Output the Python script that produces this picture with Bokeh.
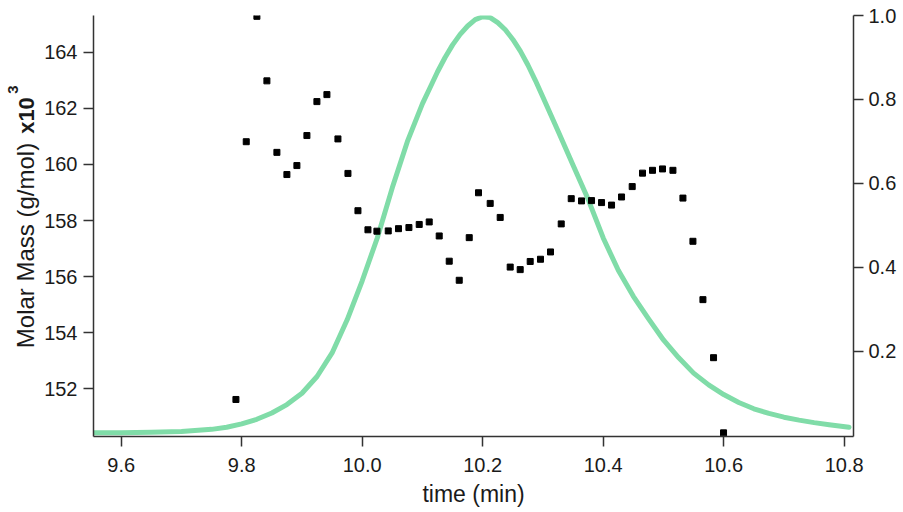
import math
from bokeh.plotting import figure
from bokeh.layouts import row
from bokeh.models import Range1d, LinearAxis, FixedTicker, PrintfTickFormatter
from bokeh.core.properties import value
from bokeh.embed import file_html
from bokeh.resources import INLINE

# ---- data ----
# Molar mass points (time in min, molar mass x10^3 g/mol)
mm_time = [9.7904, 9.8075, 9.8252, 9.8418, 9.8584, 9.8750, 9.8916, 9.9082, 9.9248, 9.9414,
           9.9597, 9.9763, 9.9929, 10.0095, 10.0244, 10.0432, 10.0602, 10.0775, 10.0946, 10.1112,
           10.1278, 10.1444, 10.1610, 10.1776, 10.1930, 10.2124, 10.2290, 10.2456, 10.2622, 10.2788,
           10.2959, 10.3125, 10.3303, 10.3469, 10.3640, 10.3806, 10.3972, 10.4138, 10.4304, 10.4481,
           10.4652, 10.4818, 10.4984, 10.5157, 10.5323, 10.5489, 10.5655, 10.5831, 10.5997]
mm_value = [151.62, 160.81, 165.28, 162.98, 160.43, 159.64, 159.96, 161.03, 162.24, 162.49,
            160.91, 159.68, 158.35, 157.67, 157.62, 157.63, 157.71, 157.75, 157.86, 157.95,
            157.45, 156.55, 155.87, 157.39, 158.99, 158.61, 158.11, 156.34, 156.25, 156.54,
            156.62, 156.88, 157.88, 158.78, 158.70, 158.71, 158.64, 158.55, 158.84, 159.21,
            159.69, 159.79, 159.84, 159.79, 158.80, 157.26, 155.18, 153.11, 150.43]

# Detector trace (normalized, right axis)
trace_time = [9.554, 9.60, 9.65, 9.70, 9.75, 9.775, 9.80, 9.825, 9.85, 9.875, 9.90, 9.925, 9.95,
              9.975, 10.00, 10.025, 10.05, 10.075, 10.10, 10.1125, 10.125, 10.1375, 10.15, 10.1625,
              10.175, 10.1875, 10.20, 10.2125, 10.225, 10.2375, 10.25, 10.2625, 10.275, 10.2875,
              10.30, 10.325, 10.35, 10.375, 10.40, 10.425, 10.45, 10.475, 10.50, 10.525,
              10.55, 10.575, 10.60, 10.625, 10.65, 10.675, 10.70, 10.725, 10.75, 10.775, 10.808]
trace_value = [0.006, 0.006, 0.007, 0.009, 0.014, 0.019, 0.027, 0.038, 0.053, 0.073, 0.100, 0.140, 0.196,
               0.275, 0.368, 0.470, 0.590, 0.700, 0.790, 0.828, 0.866, 0.900, 0.930, 0.955,
               0.975, 0.990, 0.997, 0.995, 0.983, 0.966, 0.943, 0.915, 0.882, 0.845,
               0.805, 0.725, 0.643, 0.562, 0.470, 0.393, 0.331, 0.278, 0.227, 0.185,
               0.148, 0.120, 0.097, 0.078, 0.063, 0.052, 0.043, 0.036, 0.030, 0.025, 0.019]

x_ticks = [9.6, 9.8, 10.0, 10.2, 10.4, 10.6, 10.8]
left_ticks = [152, 154, 156, 158, 160, 162, 164]
right_ticks = [0.2, 0.4, 0.6, 0.8, 1.0]

ylabel_main = "Molar Mass (g/mol)"
ylabel_bold = "x10"
ylabel_sup = "3"

FONT = "Liberation Sans"
AX_COLOR = "#333333"
TXT_COLOR = "#1a1a1a"
H = 512
LW = 40
TOP = 15
BOTTOM = 76

# ---- main plot ----
p = figure(width=903 - LW, height=H, output_backend="svg", toolbar_location=None,
           x_range=Range1d(9.554, 10.8154), y_range=Range1d(150.30, 165.31),
           min_border_left=93 - LW, min_border_right=50, min_border_top=TOP, min_border_bottom=BOTTOM,
           x_axis_label="time (min)")
p.extra_y_ranges = {"right": Range1d(-0.003, 1.0)}
p.grid.visible = False
p.outline_line_color = None
p.background_fill_color = "white"
p.border_fill_color = "white"

def style_axis(ax, standoff):
    ax.axis_line_color = AX_COLOR
    ax.axis_line_width = 1.5
    ax.major_tick_line_color = AX_COLOR
    ax.major_tick_line_width = 1.5
    ax.major_tick_out = 10
    ax.major_tick_in = 0
    ax.minor_tick_line_color = None
    ax.major_label_text_font = FONT
    ax.major_label_text_font_size = "20px"
    ax.major_label_text_color = TXT_COLOR
    ax.major_label_standoff = standoff

xa = p.xaxis[0]
style_axis(xa, 11)
xa.ticker = FixedTicker(ticks=x_ticks)
xa.formatter = PrintfTickFormatter(format="%.1f")
xa.axis_label_text_font = FONT
xa.axis_label_text_font_size = "23px"
xa.axis_label_text_font_style = "normal"
xa.axis_label_text_color = TXT_COLOR
xa.axis_label_standoff = 6

ya = p.yaxis[0]
style_axis(ya, 6)
ya.ticker = FixedTicker(ticks=left_ticks)

ra = LinearAxis(y_range_name="right")
style_axis(ra, 5)
ra.ticker = FixedTicker(ticks=right_ticks)
ra.formatter = PrintfTickFormatter(format="%.1f")
p.add_layout(ra, "right")

# detector trace
p.line(trace_time, trace_value, y_range_name="right", line_color="#80dca8",
       line_width=5, line_join="round", line_cap="round")

# molar mass points
p.scatter(mm_time, mm_value, marker="square", size=6, color="black")

# ---- y-axis title panel (pixel coordinates: x from left, y = H - page_y) ----
lp = figure(width=LW, height=H, output_backend="svg", toolbar_location=None,
            x_range=Range1d(0, LW), y_range=Range1d(BOTTOM, H - TOP),
            x_axis_type=None, y_axis_type=None,
            min_border_left=0, min_border_right=0, min_border_top=TOP, min_border_bottom=BOTTOM)
lp.grid.visible = False
lp.outline_line_color = None
lp.background_fill_color = "white"
lp.border_fill_color = "white"

lp.text(x=[25], y=[H - 245], text=[ylabel_main], angle=math.pi / 2,
        text_align="center", text_baseline="middle", text_font=value(FONT),
        text_font_size="24px", text_color=TXT_COLOR)
lp.text(x=[26], y=[H - 115], text=[ylabel_bold], angle=math.pi / 2,
        text_align="center", text_baseline="middle", text_font=value(FONT),
        text_font_size="22px", text_font_style="bold", text_color=TXT_COLOR)
lp.text(x=[12], y=[H - 89], text=[ylabel_sup], angle=math.pi / 2,
        text_align="center", text_baseline="middle", text_font=value(FONT),
        text_font_size="15px", text_font_style="bold", text_color=TXT_COLOR)

layout = row(lp, p, spacing=0)
open("out.html", "w").write(file_html(layout, INLINE))
